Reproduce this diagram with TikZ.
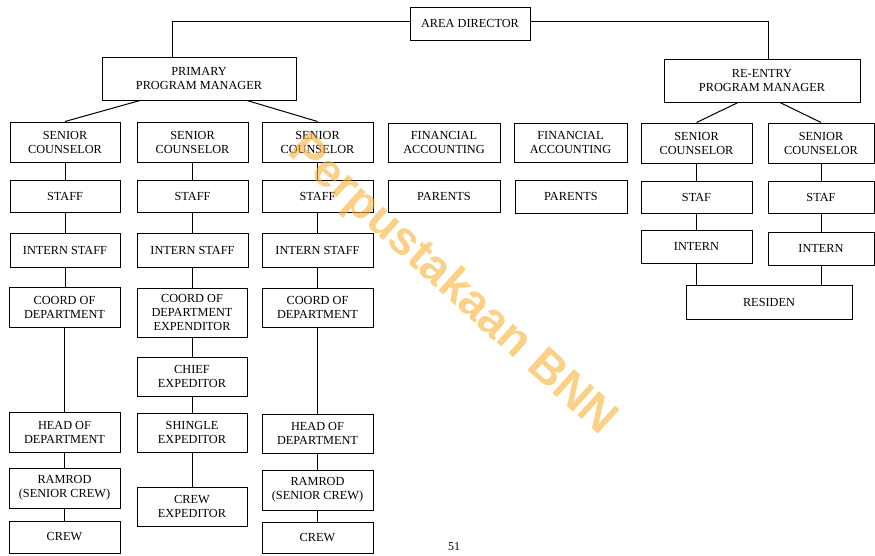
\documentclass[tikz,border=0pt]{standalone}
\usepackage{fontspec}
\setmainfont{Liberation Serif}
\newfontfamily\wmfont{Liberation Sans}
\definecolor{wmcol}{RGB}{247,178,55}
\tikzset{
  box/.style={draw, line width=1pt, inner sep=0pt, align=center,
    font=\fontsize{12.3}{14}\selectfont},
  link/.style={line width=1pt},
}
\begin{document}
\begin{tikzpicture}[x=1pt,y=-1pt]
\useasboundingbox (0,0) rectangle (875,555);
% top
\node[box, minimum width=120, minimum height=33] (ad) at (470,23.5) {AREA DIRECTOR};
\node[box, minimum width=194, minimum height=43] (ppm) at (199,78.5) {PRIMARY\\PROGRAM MANAGER};
\node[box, minimum width=196, minimum height=43] (rpm) at (762,80.5) {RE-ENTRY\\PROGRAM MANAGER};
% row 1
\node[box, minimum width=110, minimum height=40] (sc1) at (65,142) {SENIOR\\COUNSELOR};
\node[box, minimum width=111, minimum height=40] (sc2) at (192.5,142) {SENIOR\\COUNSELOR};
\node[box, minimum width=111, minimum height=40] (sc3) at (317.5,142) {SENIOR\\COUNSELOR};
\node[box, minimum width=112, minimum height=39] (fa1) at (444,142.5) {FINANCIAL\\ACCOUNTING};
\node[box, minimum width=113, minimum height=39] (fa2) at (570.5,142.5) {FINANCIAL\\ACCOUNTING};
\node[box, minimum width=111, minimum height=40] (sc4) at (696.5,143) {SENIOR\\COUNSELOR};
\node[box, minimum width=106, minimum height=40] (sc5) at (821,143) {SENIOR\\COUNSELOR};
% staff row
\node[box, minimum width=110, minimum height=32] (st1) at (65,196) {STAFF};
\node[box, minimum width=111, minimum height=32] (st2) at (192.5,196) {STAFF};
\node[box, minimum width=111, minimum height=32] (st3) at (317.5,196) {STAFF};
\node[box, minimum width=112, minimum height=32] (pa1) at (444,196) {PARENTS};
\node[box, minimum width=112, minimum height=33] (pa2) at (571,196.5) {PARENTS};
\node[box, minimum width=111, minimum height=32] (sf4) at (696.5,197) {STAF};
\node[box, minimum width=106, minimum height=32] (sf5) at (821,197) {STAF};
% intern row
\node[box, minimum width=110, minimum height=34] (is1) at (65,250) {INTERN STAFF};
\node[box, minimum width=111, minimum height=34] (is2) at (192.5,250) {INTERN STAFF};
\node[box, minimum width=111, minimum height=34] (is3) at (317.5,250) {INTERN STAFF};
\node[box, minimum width=111, minimum height=33] (in4) at (696.5,246.5) {INTERN};
\node[box, minimum width=106, minimum height=33] (in5) at (821,248.5) {INTERN};
\node[box, minimum width=166, minimum height=34] (res) at (769,302) {RESIDEN};
% column 1
\node[box, minimum width=111, minimum height=40] (cd1) at (64.5,307) {COORD OF\\DEPARTMENT};
\node[box, minimum width=111, minimum height=40] (hd1) at (64.5,432) {HEAD OF\\DEPARTMENT};
\node[box, minimum width=111, minimum height=40] (rr1) at (64.5,488) {RAMROD\\(SENIOR CREW)};
\node[box, minimum width=111, minimum height=32] (cr1) at (64.5,537) {CREW};
% column 2
\node[box, minimum width=110, minimum height=49] (cde) at (192,312.5) {COORD OF\\DEPARTMENT\\EXPENDITOR};
\node[box, minimum width=110, minimum height=39] (ce) at (192,376.5) {CHIEF\\EXPEDITOR};
\node[box, minimum width=110, minimum height=39] (se) at (192,432.5) {SHINGLE\\EXPEDITOR};
\node[box, minimum width=110, minimum height=39] (cx) at (192,506.5) {CREW\\EXPEDITOR};
% column 3
\node[box, minimum width=111, minimum height=39] (cd3) at (317.5,307.5) {COORD OF\\DEPARTMENT};
\node[box, minimum width=111, minimum height=39] (hd3) at (317.5,433.5) {HEAD OF\\DEPARTMENT};
\node[box, minimum width=111, minimum height=40] (rr3) at (317.5,490) {RAMROD\\(SENIOR CREW)};
\node[box, minimum width=111, minimum height=31] (cr3) at (317.5,537.5) {CREW};
% page number
\node[font=\fontsize{12}{14}\selectfont] (pg) at (454,547) {51};
% connectors
\draw[link] ([yshift=2.5]ad.west) -| ([xshift=-27]ppm.north);
\draw[link] ([yshift=2.5]ad.east) -| ([xshift=6]rpm.north);
\draw[link] ([xshift=-59]ppm.south) -- (sc1.north);
\draw[link] ([xshift=48]ppm.south) -- (sc3.north);
\draw[link] ([xshift=-24]rpm.south) -- (sc4.north);
\draw[link] ([xshift=18]rpm.south) -- (sc5.north);
\foreach \a/\b in {sc1/st1, st1/is1, is1/cd1, cd1/hd1, hd1/rr1, rr1/cr1,
                   sc2/st2, st2/is2, is2/cde, cde/ce, ce/se, se/cx,
                   sc3/st3, st3/is3, is3/cd3, cd3/hd3, hd3/rr3, rr3/cr3,
                   sc4/sf4, sf4/in4, sc5/sf5, sf5/in5, in4/res, in5/res}
  \draw[link] (\a.south) -- (\a.south |- \b.north);
% watermark
\node[rotate=-42, text=wmcol, opacity=0.6, font=\wmfont\bfseries\fontsize{47}{47}\selectfont] (wm) at (452,286) {Perpustakaan BNN};
\end{tikzpicture}
\end{document}
